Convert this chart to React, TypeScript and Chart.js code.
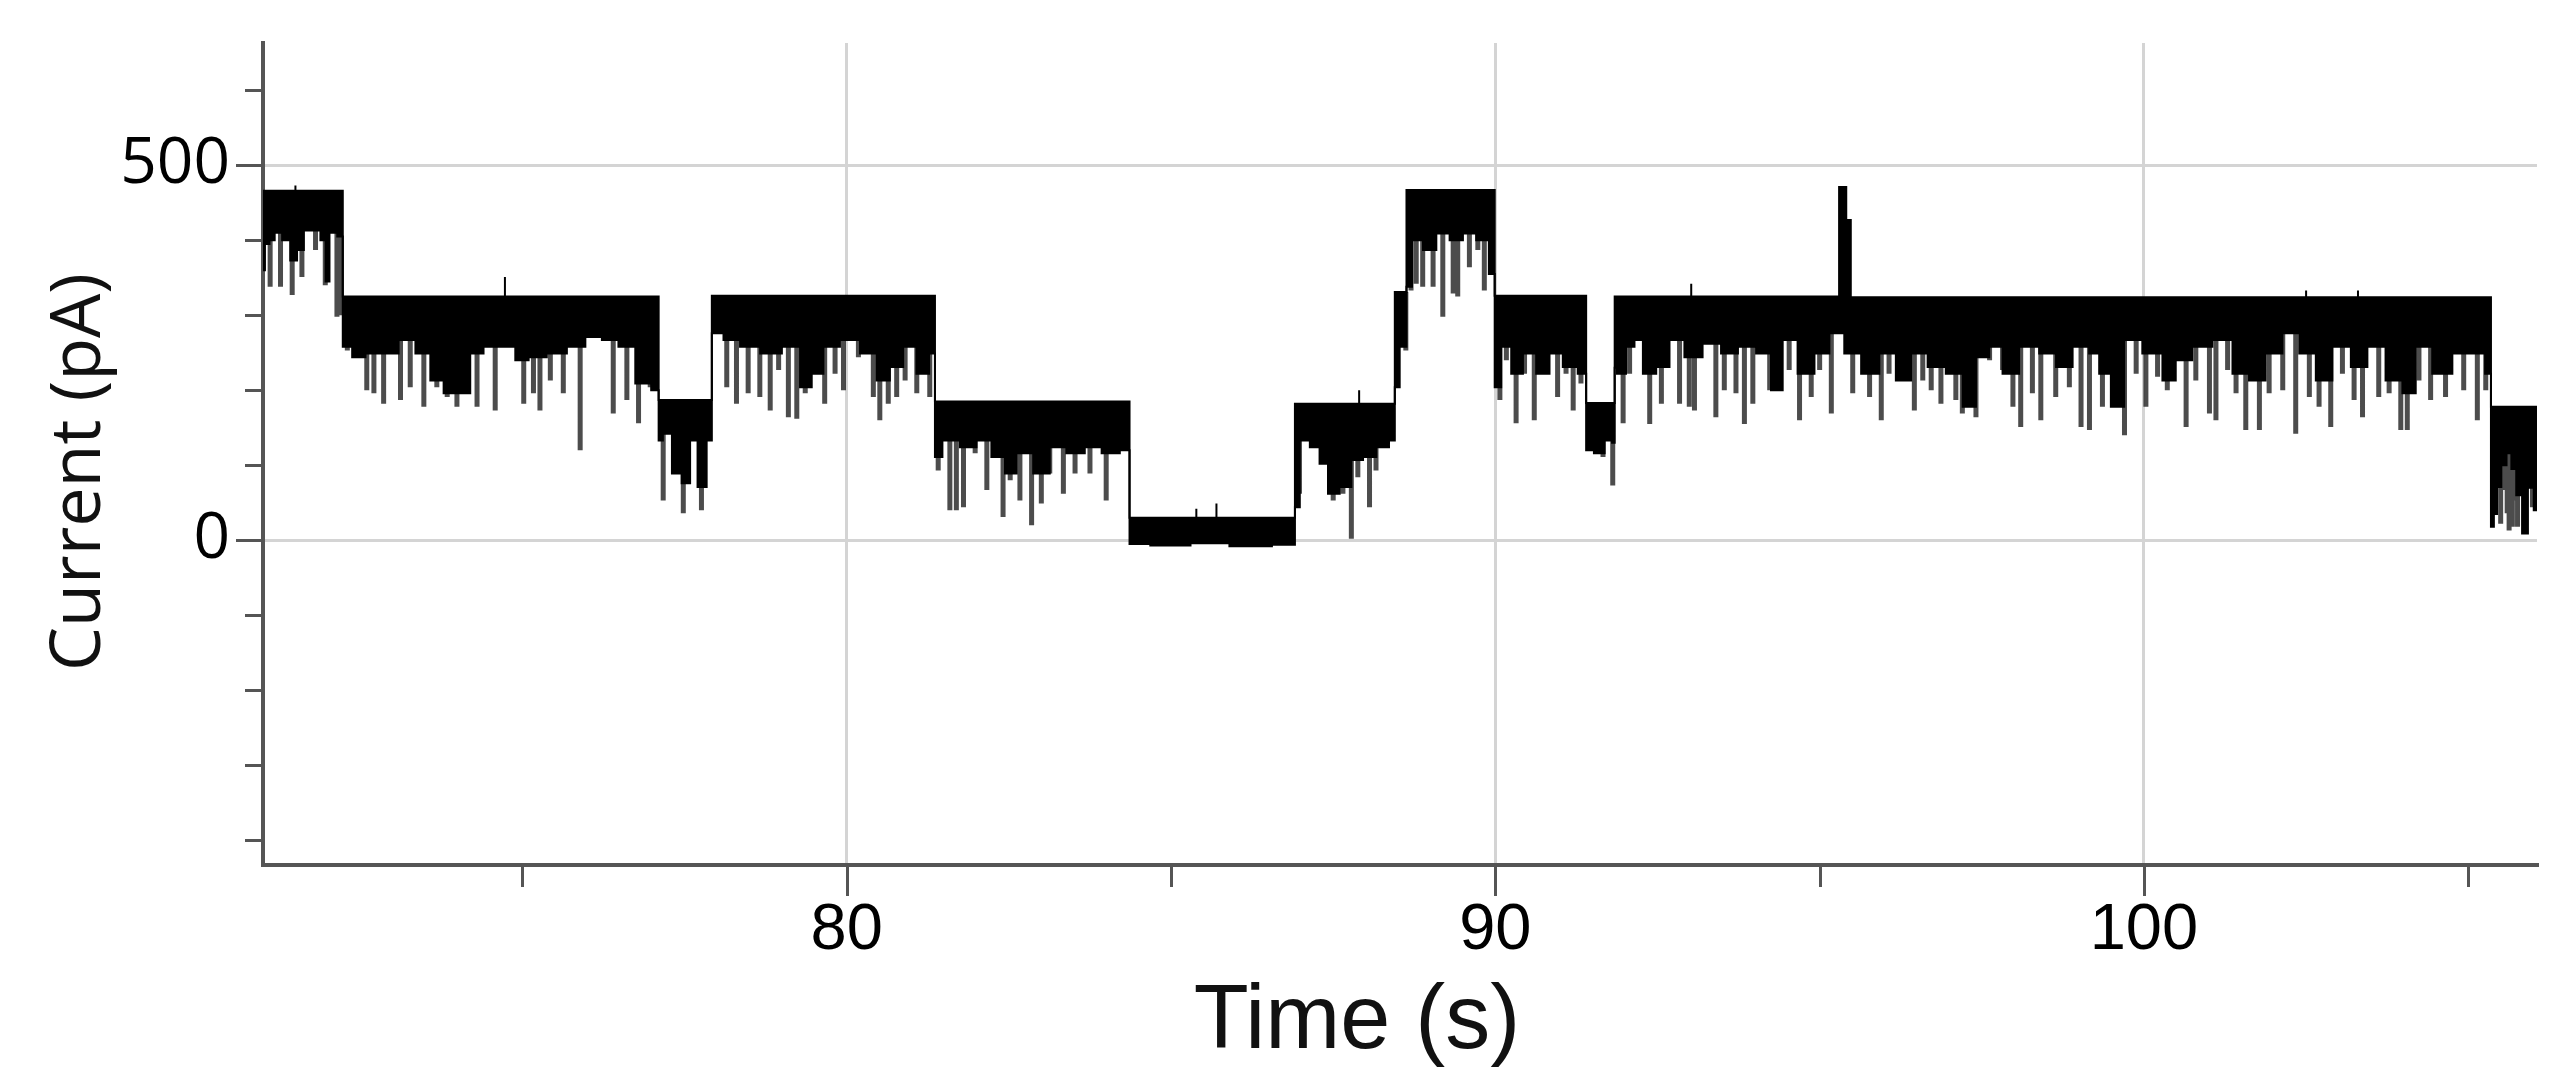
import React, { useEffect, useRef } from 'react';
import { Chart, registerables } from 'chart.js';

Chart.register(...registerables);

// ---------- data ----------
const xTickValues = [75, 80, 85, 90, 95, 100, 105];
const xTickLabels = [80, 90, 100];
const yTickValues = [-400, -300, -200, -100, 0, 100, 200, 300, 400, 500, 600];
const yTickLabels = [0, 500];

// current levels (pA): start / end time (s) and upper edge of the noisy band
const segStart = [71.0, 72.23, 77.1, 77.92, 81.36, 84.36, 86.91, 88.45, 88.63, 89.99, 91.4, 91.84, 95.3, 95.41, 95.48, 105.35];
const segEnd = [72.23, 77.1, 77.92, 81.36, 84.36, 86.91, 88.45, 88.63, 89.99, 91.4, 91.84, 95.3, 95.41, 95.48, 105.35, 106.06];
const segTop = [466, 325, 187, 326, 185, 30, 182, 331, 467, 326, 183, 325, 471, 427, 324, 178];

// lower edge of the dense (solid) part of the band
const lowT = [
  71.0, 71.06, 71.14, 71.22, 71.37, 71.47, 71.58, 71.68, 71.83, 71.94, 71.99, 72.06, 72.23,
  72.23, 72.3, 72.45, 72.71, 72.96, 73.22, 73.48, 73.68, 73.89, 74.09, 74.3, 74.5, 74.81, 74.97, 75.22, 75.53, 75.84, 76.1, 76.35, 76.61, 76.87, 77.1,
  77.1, 77.23, 77.38, 77.53, 77.64, 77.76, 77.92,
  77.92, 78.0, 78.2, 78.51, 78.82, 79.18, 79.38, 79.54, 79.74, 80.05, 80.36, 80.56, 80.77, 80.97, 81.18, 81.36,
  81.36, 81.59, 81.9, 82.1, 82.36, 82.52, 82.72, 83.03, 83.23, 83.54, 83.8, 84.06, 84.36,
  84.36, 85.0, 85.6, 86.2, 86.91,
  86.91, 86.93, 87.04, 87.24, 87.34, 87.5, 87.7, 87.86, 88.06, 88.27, 88.45,
  88.45, 88.47, 88.58, 88.63,
  88.63, 88.65, 88.78, 88.99, 89.19, 89.4, 89.6, 89.81, 89.99,
  89.99, 90.01, 90.17, 90.32, 90.53, 90.73, 90.94, 91.14, 91.4,
  91.4, 91.43, 91.61, 91.76, 91.84,
  91.84, 91.91, 92.12, 92.17, 92.38, 92.58, 92.79, 93.04, 93.35, 93.61, 93.87, 94.17, 94.33, 94.53, 94.79, 95.05, 95.25,
  95.51, 95.77, 96.07, 96.28, 96.54, 96.79, 97.1, 97.31, 97.51, 97.72, 97.92, 98.23, 98.54, 98.75, 99.05, 99.26,
  99.36, 99.62, 99.77, 100.18, 100.39, 100.59, 100.9, 101.21, 101.52, 101.72, 102.03, 102.24, 102.55, 102.75,
  103.06, 103.32, 103.57, 103.88, 104.09, 104.29, 104.6, 104.91, 105.17, 105.35,
  105.35, 105.37, 105.42, 105.47, 105.55, 105.63, 105.7, 105.78, 105.88, 105.96, 106.06,
];
const lowV = [
  360, 395, 400, 410, 400, 373, 387, 413, 413, 400, 345, 410, 405,
  258, 258, 244, 249, 249, 267, 249, 213, 196, 196, 249, 258, 258, 240, 244, 249, 258, 271, 267, 258, 209, 200,
  133, 142, 89, 76, 133, 71, 133,
  276, 276, 267, 258, 249, 258, 204, 222, 258, 267, 249, 213, 231, 258, 222, 249,
  111, 133, 124, 133, 111, 89, 116, 89, 124, 116, 124, 116, 120,
  -5, -7, -4, -8, -6,
  44, 44, 133, 124, 102, 62, 71, 107, 111, 124, 133,
  204, 204, 258, 258,
  338, 338, 400, 387, 409, 400, 409, 400, 355,
  204, 204, 258, 222, 249, 222, 249, 231, 222,
  120, 120, 116, 133, 130,
  230, 222, 258, 267, 222, 231, 267, 244, 262, 249, 258, 249, 200, 267, 222, 249, 276,
  249, 222, 249, 213, 249, 231, 222, 178, 244, 258, 222, 258, 249, 231, 258, 249,
  222, 178, 267, 249, 213, 240, 258, 267, 222, 213, 249, 276, 249, 213,
  258, 231, 258, 213, 196, 258, 222, 249, 249, 222,
  18, 18, 35, 71, 100, 116, 95, 60, 9, 70, 40,
];

// short closure spikes: time (s) and minimum current (pA)
const spikeT = [
  71.11, 71.27, 71.45, 71.6, 71.81, 71.96, 72.14, 72.19,
  72.3, 72.45, 72.6, 72.71, 72.86, 73.12, 73.27, 73.48, 73.68, 73.84, 73.99, 74.14, 74.3, 74.58, 75.02, 75.17, 75.27, 75.43, 75.63, 75.89, 76.4, 76.61, 76.79, 76.97,
  77.17, 77.48, 77.76,
  78.15, 78.3, 78.48, 78.66, 78.82, 78.95, 79.1, 79.23, 79.36, 79.66, 79.82, 79.95, 80.18, 80.41, 80.51, 80.64, 80.77, 80.9, 81.08, 81.28,
  81.41, 81.59, 81.69, 81.8, 81.98, 82.16, 82.41, 82.52, 82.67, 82.85, 83.0, 83.13, 83.34, 83.52, 83.75, 84.0, 84.16, 84.31,
  86.98, 87.5, 87.65, 87.78, 87.88, 88.06, 88.16,
  88.62,
  88.7, 88.78, 88.88, 89.04, 89.19, 89.35, 89.42, 89.6, 89.73, 89.83, 89.94,
  90.07, 90.17, 90.32, 90.45, 90.6, 90.76, 90.96, 91.09, 91.2, 91.32,
  91.66, 91.81,
  91.97, 92.07, 92.38, 92.56, 92.84, 92.99, 93.07, 93.4, 93.53, 93.71, 93.84, 93.97, 94.23, 94.38, 94.53, 94.69, 94.87, 95.0, 95.18,
  95.51, 95.77, 95.95, 96.07, 96.28, 96.46, 96.59, 96.72, 96.87, 97.1, 97.2, 97.41, 97.62, 97.82, 97.98, 98.1, 98.28, 98.41, 98.64, 98.85, 99.03, 99.16,
  99.36, 99.52, 99.7, 99.88, 100.03, 100.21, 100.36, 100.65, 100.8, 101.01, 101.11, 101.29, 101.42, 101.57, 101.78, 101.93, 102.14, 102.34, 102.55, 102.7, 102.88,
  103.06, 103.24, 103.37, 103.62, 103.78, 103.96, 104.06, 104.24, 104.42, 104.65, 104.93, 105.14, 105.27,
  105.5, 105.55, 105.6, 105.63, 105.68, 105.7, 105.76, 105.99,
];
const spikeV = [
  338, 338, 327, 351, 387, 340, 298, 300,
  253, 244, 200, 196, 182, 187, 204, 178, 204, 191, 178, 213, 178, 173, 182, 196, 173, 213, 196, 120, 169, 187, 156, 204,
  53, 36, 40,
  204, 182, 196, 191, 173, 227, 164, 162, 196, 182, 222, 200, 244, 191, 160, 182, 191, 213, 196, 191,
  93, 40, 40, 44, 116, 67, 31, 80, 53, 20, 49, 89, 62, 89, 89, 53, 116, 120,
  62, 53, 62, 2, 84, 44, 93,
  253,
  333, 342, 338, 338, 298, 329, 325, 364, 387, 333, 355,
  187, 240, 156, 222, 160, 231, 191, 222, 173, 209,
  111, 73,
  156, 222, 155, 182, 182, 178, 173, 164, 200, 196, 155, 182, 200, 204, 227, 160, 191, 227, 169,
  196, 191, 160, 222, 213, 173, 213, 200, 182, 187, 169, 164, 240, 227, 178, 151, 196, 160, 191, 204, 151, 147,
  178, 187, 140, 222, 178, 218, 200, 151, 213, 169, 160, 227, 196, 147, 147, 196, 200, 142, 191, 178, 151,
  222, 187, 164, 191, 196, 147, 147, 213, 187, 191, 200, 160, 200,
  22, 67, 36, 13, 18, 53, 18, 44,
];

// small upward noise excursions: time (s) and maximum current (pA)
const bumpT = [71.5, 74.73, 85.39, 85.7, 87.9, 93.02, 102.5, 103.3];
const bumpV = [473, 351, 42, 49, 200, 342, 333, 333];

// axis ranges
const X_MIN = 71;
const X_MAX = 106.06;
const Y_MIN = -433;
const Y_MAX = 663;

const W = 2572;
const H = 1088;

const AXIS_COLOR = '#555555';
const GRID_COLOR = '#d4d4d4';

function topAt(t: number): number {
  for (let i = 0; i < segStart.length; i++) {
    if (t >= segStart[i] && t < segEnd[i]) return segTop[i];
  }
  return segTop[segTop.length - 1];
}

const tickMarksPlugin = {
  id: 'tickMarks',
  afterDraw(chart: any) {
    const { ctx, chartArea } = chart;
    const xs = chart.scales.x;
    const ys = chart.scales.y;
    ctx.save();
    ctx.strokeStyle = AXIS_COLOR;
    ctx.lineWidth = 3;
    xs.ticks.forEach((tk: any) => {
      const px = Math.round(xs.getPixelForValue(tk.value)) + 0.5;
      const len = xTickLabels.includes(tk.value) ? 31 : 22;
      ctx.beginPath();
      ctx.moveTo(px, chartArea.bottom);
      ctx.lineTo(px, chartArea.bottom + len);
      ctx.stroke();
    });
    ys.ticks.forEach((tk: any) => {
      const py = Math.round(ys.getPixelForValue(tk.value)) + 0.5;
      const len = yTickLabels.includes(tk.value) ? 27 : 18;
      ctx.beginPath();
      ctx.moveTo(chartArea.left, py);
      ctx.lineTo(chartArea.left - len, py);
      ctx.stroke();
    });
    ctx.restore();
  },
};

const axisTitlesPlugin = {
  id: 'axisTitles',
  afterDraw(chart: any) {
    const { ctx } = chart;
    ctx.save();
    ctx.fillStyle = '#111111';
    ctx.textAlign = 'center';
    ctx.textBaseline = 'alphabetic';
    ctx.font = '90px "Liberation Sans", Arial, sans-serif';
    ctx.fillText('Time (s)', 1357, 1048);
    ctx.translate(100, 472);
    ctx.rotate(-Math.PI / 2);
    ctx.font = '70px "Open Sans", sans-serif';
    ctx.fillText('Current (pA)', 0, 0);
    ctx.restore();
  },
};

export default function App() {
  const canvasRef = useRef<HTMLCanvasElement | null>(null);

  useEffect(() => {
    document.body.style.margin = '0';
    const canvas = canvasRef.current;
    if (!canvas) return;

    const upper: { x: number; y: number }[] = [];
    segStart.forEach((s, i) => {
      upper.push({ x: s, y: segTop[i] });
      upper.push({ x: segEnd[i], y: segTop[i] });
    });
    const lower = lowT.map((t, i) => ({ x: t, y: lowV[i] }));
    const spikes: { x: number; y: number | null }[] = [];
    spikeT.forEach((t, i) => {
      spikes.push({ x: t, y: topAt(t) }, { x: t, y: spikeV[i] }, { x: t, y: null });
    });
    const bumps: { x: number; y: number | null }[] = [];
    bumpT.forEach((t, i) => {
      bumps.push({ x: t, y: topAt(t) }, { x: t, y: bumpV[i] }, { x: t, y: null });
    });

    const chart = new Chart(canvas, {
      type: 'line',
      data: {
        datasets: [
          {
            label: 'band top',
            data: upper,
            borderColor: '#000000',
            backgroundColor: '#000000',
            borderWidth: 2,
            pointRadius: 0,
            tension: 0,
            fill: '+1',
          },
          {
            label: 'band bottom',
            data: lower,
            borderColor: '#000000',
            borderWidth: 2,
            pointRadius: 0,
            tension: 0,
            stepped: 'middle',
            fill: false,
          },
          {
            label: 'spikes',
            data: spikes,
            borderColor: 'rgba(45,45,45,0.85)',
            borderWidth: 5,
            pointRadius: 0,
            tension: 0,
            fill: false,
            spanGaps: false,
          },
          {
            label: 'bumps',
            data: bumps,
            borderColor: '#000000',
            borderWidth: 2,
            pointRadius: 0,
            tension: 0,
            fill: false,
            spanGaps: false,
          },
        ],
      } as any,
      options: {
        animation: false,
        responsive: false,
        devicePixelRatio: 1,
        events: [],
        layout: { padding: { top: 43, right: 35, bottom: 0, left: 0 } },
        plugins: {
          legend: { display: false },
          tooltip: { enabled: false },
          title: { display: false },
        },
        scales: {
          x: {
            type: 'linear',
            position: 'bottom',
            min: X_MIN,
            max: X_MAX,
            afterBuildTicks: (s: any) => {
              s.ticks = xTickValues.map((v) => ({ value: v }));
            },
            ticks: {
              autoSkip: false,
              maxRotation: 0,
              padding: 27,
              color: '#000000',
              font: { family: '"Liberation Sans", Arial, sans-serif', size: 65 },
              callback: (v: any) => (xTickLabels.includes(Number(v)) ? String(v) : ''),
            },
            grid: {
              drawTicks: false,
              lineWidth: 3,
              color: (ctx: any) => (ctx.tick && xTickLabels.includes(ctx.tick.value) ? GRID_COLOR : 'rgba(0,0,0,0)'),
            },
            border: { display: true, color: AXIS_COLOR, width: 4 },
            afterFit: (s: any) => {
              s.height = H - 865;
              s.paddingLeft = 0;
              s.paddingRight = 0;
            },
          },
          y: {
            type: 'linear',
            position: 'left',
            min: Y_MIN,
            max: Y_MAX,
            afterBuildTicks: (s: any) => {
              s.ticks = yTickValues.map((v) => ({ value: v }));
            },
            ticks: {
              autoSkip: false,
              padding: 33,
              color: '#000000',
              font: { family: '"Open Sans", sans-serif', size: 64 },
              callback: (v: any) => (yTickLabels.includes(Number(v)) ? String(v) : ''),
            },
            grid: {
              drawTicks: false,
              lineWidth: 3,
              color: (ctx: any) => (ctx.tick && yTickLabels.includes(ctx.tick.value) ? GRID_COLOR : 'rgba(0,0,0,0)'),
            },
            border: { display: true, color: AXIS_COLOR, width: 4 },
            afterFit: (s: any) => {
              s.width = 263;
              s.paddingTop = 0;
              s.paddingBottom = 0;
            },
          },
        },
      } as any,
      plugins: [tickMarksPlugin, axisTitlesPlugin],
    });

    return () => chart.destroy();
  }, []);

  return (
    <div style={{ width: W, height: H, background: '#ffffff' }}>
      <canvas ref={canvasRef} width={W} height={H} style={{ display: 'block', width: W, height: H }} />
    </div>
  );
}
